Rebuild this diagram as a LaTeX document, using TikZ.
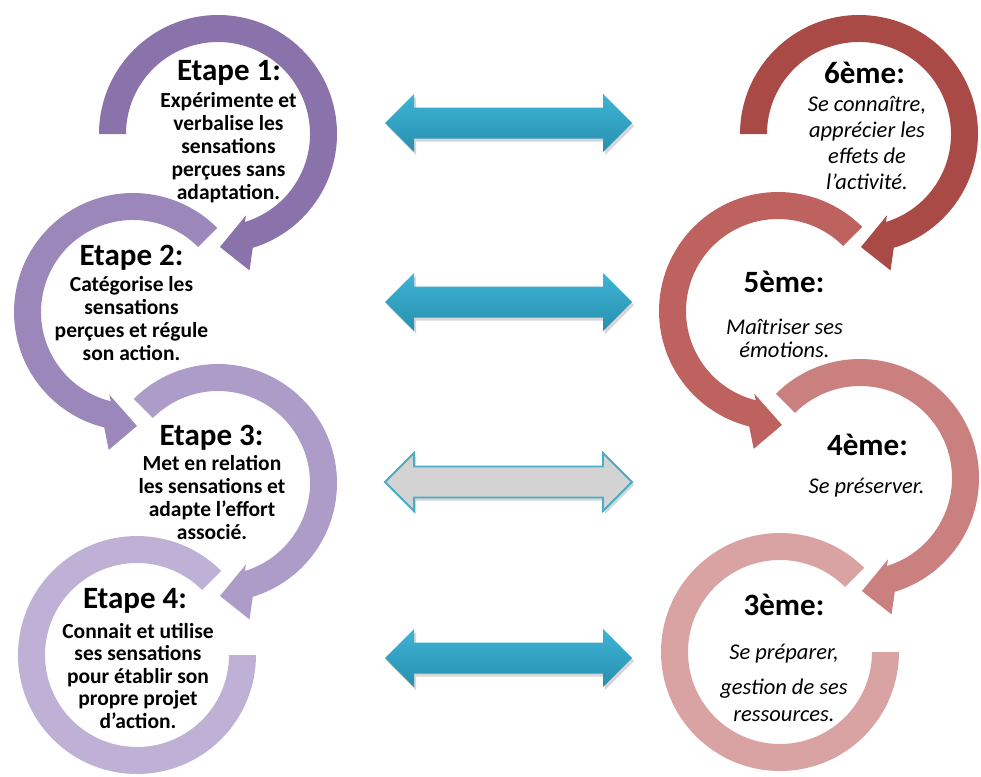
\documentclass[tikz,border=0pt]{standalone}
\usepackage{fontspec}
\setmainfont{Carlito}
\usetikzlibrary{calc}
\definecolor{pA}{RGB}{138,114,170}
\definecolor{pB}{RGB}{156,135,186}
\definecolor{pC}{RGB}{173,156,200}
\definecolor{pD}{RGB}{190,177,213}
\definecolor{rA}{RGB}{170,74,71}
\definecolor{rB}{RGB}{190,98,95}
\definecolor{rC}{RGB}{202,128,127}
\definecolor{rD}{RGB}{217,163,163}
\definecolor{blueT}{RGB}{62,180,214}
\definecolor{blueB}{RGB}{40,143,174}
\definecolor{grayF}{RGB}{211,211,211}
\definecolor{blueL}{RGB}{75,172,198}
% clockwise ring arrow: center, colour, start angle
\newcommand\RingCW[3]{%
 \fill[#2] ($(#1)+(#3:119)$) arc[start angle=#3,end angle=-73,radius=119]
   -- ($(#1)+(-77:140)$) -- ($(#1)+(-89:113)$) -- ($(#1)+(-71:86)$)
   -- ($(#1)+(-73:92)$) arc[start angle=-73,end angle=#3,radius=92] -- cycle;}
% counter-clockwise ring arrow: center, colour
\newcommand\RingCCW[2]{%
 \fill[#2] ($(#1)+(45:119)$) arc[start angle=45,end angle=256,radius=119]
   -- ($(#1)+(260:140)$) -- ($(#1)+(272:114)$) -- ($(#1)+(254:86)$)
   -- ($(#1)+(256:92)$) arc[start angle=256,end angle=45,radius=92] -- cycle;}
% last ring without head
\newcommand\RingEnd[2]{%
 \fill[#2] ($(#1)+(45:119)$) arc[start angle=45,end angle=360,radius=119]
   -- ($(#1)+(0:92)$) arc[start angle=360,end angle=45,radius=92] -- cycle;}
\newcommand\DblPath{(385,0) -- (414,29) -- (414,15.5) -- (603,15.5) -- (603,29) -- (632,0) -- (603,-29) -- (603,-15.5) -- (414,-15.5) -- (414,-29) -- cycle}
\tikzset{
 hd/.style={font=\fontsize{31}{33}\selectfont\bfseries, inner sep=0pt},
 bodyL/.style={font=\fontsize{21.5}{23}\selectfont\bfseries, align=center, inner sep=0pt},
 bodyR/.style={font=\fontsize{22.5}{26}\selectfont\itshape, align=center, inner sep=0pt},
 shadowarrow/.style={fill=black, opacity=0.16},
 bluearrow/.style={top color=blueT, bottom color=blueB},
 grayarrow/.style={fill=grayF, draw=blueL, line width=1.8pt, line join=miter}
}
\begin{document}
\begin{tikzpicture}[x=1pt,y=1pt]
\useasboundingbox (0,0) rectangle (981,-776);
% centers
\coordinate (L1) at (218,-134);
\coordinate (L2) at (133,-312);
\coordinate (L3) at (218,-483);
\coordinate (L4) at (137,-655);
\coordinate (R1) at (859,-134);
\coordinate (R2) at (778,-311);
\coordinate (R3) at (860,-478);
\coordinate (R4) at (780,-652);
% rings (bottom first)
\RingEnd{L4}{pD}
\RingCW{L3}{pC}{135}
\RingCCW{L2}{pB}
\RingCW{L1}{pA}{180}
\RingEnd{R4}{rD}
\RingCW{R3}{rC}{135}
\RingCCW{R2}{rB}
\RingCW{R1}{rA}{180}
% double arrows
\begin{scope}[yshift=-123pt]
 \fill[shadowarrow,xshift=2pt,yshift=-3pt] \DblPath;
 \shade[bluearrow] \DblPath;
\end{scope}
\begin{scope}[yshift=-302pt]
 \fill[shadowarrow,xshift=2pt,yshift=-3pt] \DblPath;
 \shade[bluearrow] \DblPath;
\end{scope}
\begin{scope}[yshift=-482pt]
 \fill[shadowarrow,xshift=2pt,yshift=-3pt] \DblPath;
 \draw[grayarrow] \DblPath;
\end{scope}
\begin{scope}[yshift=-658pt]
 \fill[shadowarrow,xshift=2pt,yshift=-3pt] \DblPath;
 \shade[bluearrow] \DblPath;
\end{scope}
% left texts
\node[hd] (e1) at (229,-73) {Etape 1:};
\node[bodyL] (t1) at (228.5,-148) {Expérimente et\\verbalise les\\sensations\\perçues sans\\adaptation.};
\node[hd] (e2) at (131.5,-258) {Etape 2:};
\node[bodyL] (t2) at (131.5,-319) {Catégorise les\\sensations\\perçues et régule\\son action.};
\node[hd] (e3) at (211.5,-438) {Etape 3:};
\node[bodyL] (t3) at (212,-498) {Met en relation\\les sensations  et\\adapte l’effort\\associé.};
\node[hd] (e4) at (135,-601) {Etape 4:};
\node[bodyL, font=\fontsize{21.5}{22.5}\selectfont\bfseries] (t4) at (138,-676) {Connait et utilise\\ses sensations\\pour établir son\\propre projet\\d’action.};
% right texts
\node[hd] (h6) at (864.5,-73) {6ème:};
\node[bodyR] (s6) at (867,-143) {Se connaître,\\apprécier les\\effets de\\l’activité.};
\node[hd] (h5) at (784,-282) {5ème:};
\node[bodyR, font=\fontsize{22.5}{23}\selectfont\itshape] (s5) at (784.5,-338.5) {Maîtriser ses\\émotions.};
\node[hd] (h4) at (867.5,-445) {4ème:};
\node[bodyR] (s4) at (866.5,-488) {Se préserver.};
\node[hd] (h3) at (784,-605) {3ème:};
\node[bodyR, font=\fontsize{22.5}{27}\selectfont\itshape] (s3) at (784,-683) {Se préparer,\\[8pt]gestion de ses\\ressources.};
\end{tikzpicture}
\end{document}
